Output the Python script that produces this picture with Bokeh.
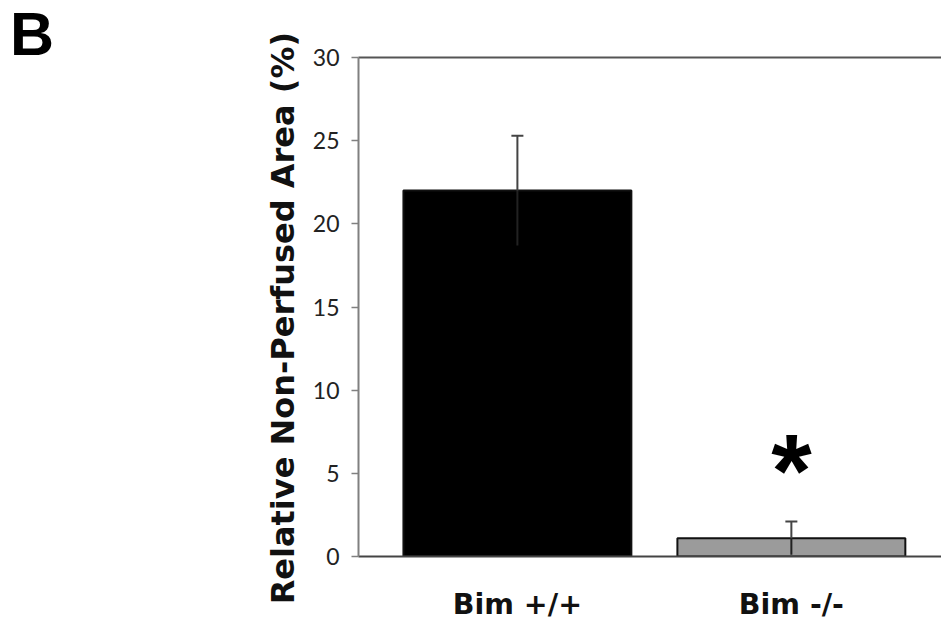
from bokeh.plotting import figure
from bokeh.models import Range1d, FixedTicker, LinearAxis, ColumnDataSource, Div
from bokeh.layouts import row
from bokeh.core.properties import value
from bokeh.embed import file_html
from bokeh.resources import INLINE

# ---- data ----
categories = ["Bim +/+", "Bim -/-"]
means = [22.0, 1.1]
errors = [3.3, 1.0]
bar_colors = ["#000000", "#9b9b9b"]
y_ticks = [0, 5, 10, 15, 20, 25, 30]
panel_letter = "B"
y_title = "Relative Non-Perfused Area (%)"
significance = ["", "*"]

xs = [i + 1 for i in range(len(categories))]

LEFT_W = 72

p = figure(width=941 - LEFT_W, height=624, output_backend="svg", toolbar_location=None,
           x_range=Range1d(0.42, 2.548), y_range=Range1d(0, 30),
           min_border_left=358 - LEFT_W, min_border_right=0, min_border_top=57,
           min_border_bottom=68, margin=0)
p.outline_line_color = None
p.xgrid.visible = False
p.ygrid.visible = False
p.background_fill_color = "white"
p.border_fill_color = "white"

src = ColumnDataSource(dict(x=xs, top=means, color=bar_colors,
                            lo=[m - e for m, e in zip(means, errors)],
                            hi=[m + e for m, e in zip(means, errors)]))

p.vbar(x="x", top="top", width=0.832, bottom=0, fill_color="color",
       line_color="#111111", line_width=2, source=src)

# error bars: lower half black (hidden in black bar), upper half dark gray, top cap
p.segment(x0="x", y0="lo", x1="x", y1="top", line_color="#222222", line_width=2, source=src)
p.segment(x0="x", y0="top", x1="x", y1="hi", line_color="#444444", line_width=2, source=src)
p.rect(x="x", y="hi", width=12, height=2, width_units="screen", height_units="screen",
       fill_color="#444444", line_color=None, source=src)

# significance asterisk
ast_x = [x for x, s in zip(xs, significance) if s]
ast_y = [h + 6.5 for h, s in zip(src.data["hi"], significance) if s]
p.text(x=ast_x, y=ast_y, text=[s for s in significance if s], text_align="center",
       text_baseline="top", text_font=value("Liberation Sans"), text_font_style="bold",
       text_font_size="104px", text_color="#000000")

# y axis
ya = p.yaxis[0]
ya.ticker = FixedTicker(ticks=y_ticks)
ya.axis_label = y_title + "\u00a0\u00a0"
ya.axis_label_text_font = "DejaVu Sans"
ya.axis_label_text_font_style = "bold"
ya.axis_label_text_font_size = "32px"
ya.axis_label_text_color = "#111111"
ya.axis_label_standoff = 8
ya.major_label_text_font = "Lato"
ya.major_label_text_font_size = "23px"
ya.major_label_text_color = "#222222"
ya.major_label_standoff = 12
ya.axis_line_color = "#808080"
ya.axis_line_width = 2
ya.major_tick_line_color = "#808080"
ya.major_tick_line_width = 1.5
ya.major_tick_in = 0
ya.major_tick_out = 7
ya.minor_tick_line_color = None

# x axis
xa = p.xaxis[0]
xa.ticker = FixedTicker(ticks=xs)
xa.major_label_overrides = {x: c for x, c in zip(xs, categories)}
xa.major_label_text_font = "DejaVu Sans"
xa.major_label_text_font_style = "bold"
xa.major_label_text_font_size = "28.5px"
xa.major_label_text_color = "#111111"
xa.major_label_standoff = 25
xa.axis_line_color = "#444444"
xa.axis_line_width = 2
xa.major_tick_line_color = None
xa.minor_tick_line_color = None

# top border line
top = LinearAxis(ticker=FixedTicker(ticks=[]), major_label_text_font_size="0px",
                 axis_line_color="#555555", axis_line_width=2,
                 major_tick_line_color=None, minor_tick_line_color=None)
p.add_layout(top, "above")

# panel letter
letter_html = ('<div style="font-family: \'Liberation Sans\', Arial, sans-serif; '
               'font-weight: bold; font-size: 61px; line-height: 61px; color: #000; '
               'margin: 4px 0 0 10px; padding: 0; white-space: nowrap;">' + panel_letter + '</div>')
letter = Div(text=letter_html, width=LEFT_W, height=110, margin=0)

layout = row(letter, p, spacing=0, margin=0)

open("out.html", "w").write(file_html(layout, INLINE))
